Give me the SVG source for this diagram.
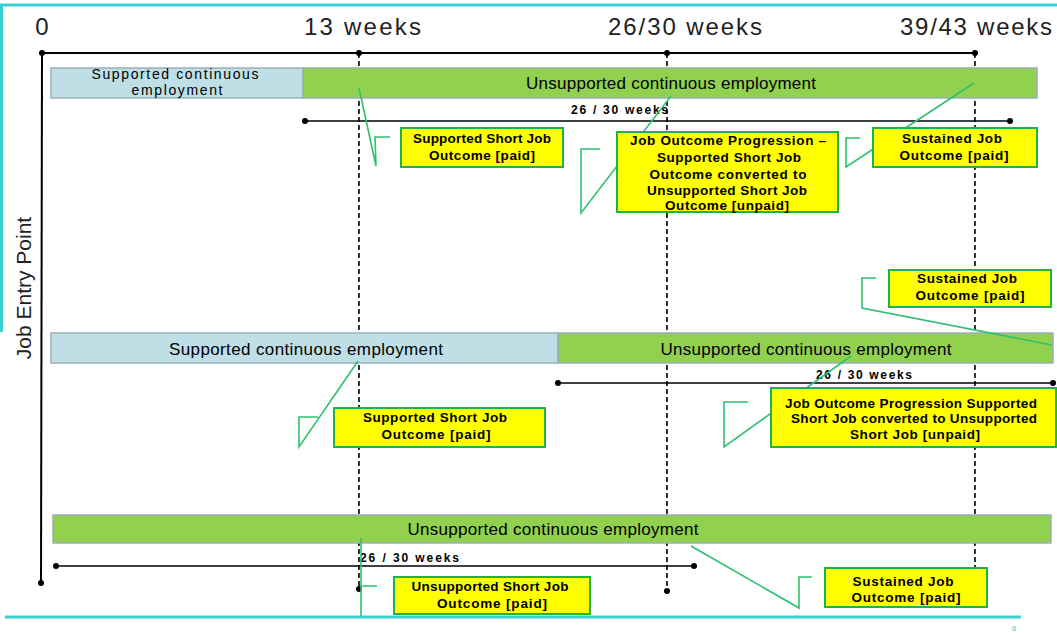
<svg xmlns="http://www.w3.org/2000/svg" width="1057" height="633" viewBox="0 0 1057 633">
<style>
.frame{stroke:#3CCFCF;stroke-width:3;fill:none}
.axis{stroke:#000;stroke-width:2;fill:none}
.dash{stroke:#000;stroke-width:1.6;stroke-dasharray:5 3;fill:none}
.dim{stroke:#000;stroke-width:1.6;fill:none}
.dot{fill:#000}
.sup{fill:#BEDFE6;stroke:#9AB0B8;stroke-width:1.5}
.uns{fill:#92D050;stroke:#9AB0B8;stroke-width:1.5}
.box{fill:#FFFF00;stroke:#22B04B;stroke-width:2}
.ptr{stroke:#2FC071;stroke-width:1.6;fill:none;stroke-linejoin:miter}
.big{font-family:"Liberation Sans",Arial,sans-serif;font-size:24px;fill:#222}
.bar{font-family:"Liberation Sans",Arial,sans-serif;font-size:17px;fill:#000;text-anchor:middle}
.bar13{font-family:"Liberation Sans",Arial,sans-serif;font-size:14px;fill:#000;text-anchor:middle}
.co{font-family:"Liberation Sans",Arial,sans-serif;font-size:13.5px;font-weight:bold;fill:#000;text-anchor:middle}
.wk{font-family:"Liberation Sans",Arial,sans-serif;font-size:12px;font-weight:bold;fill:#000}
</style>

<g id="frame">
<line class="frame" x1="0" y1="5" x2="1057" y2="5"/>
<line class="frame" x1="1.5" y1="5" x2="1.5" y2="332"/>
<line class="frame" x1="5" y1="617" x2="1021" y2="617"/>
<text x="1014" y="631" font-family="Liberation Sans, sans-serif" font-size="8" fill="#3CCFCF" text-anchor="middle">8</text>
</g>

<g id="axes">
<line class="axis" x1="42" y1="53" x2="975" y2="53"/>
<line class="axis" x1="42" y1="53" x2="41" y2="583"/>
<line class="dash" x1="359" y1="53" x2="359" y2="589"/>
<line class="dash" x1="667" y1="53" x2="667" y2="591"/>
<line class="dash" x1="975" y1="53" x2="975" y2="567"/>
<circle class="dot" cx="42" cy="53" r="3"/>
<circle class="dot" cx="359" cy="53" r="3"/>
<circle class="dot" cx="667" cy="53" r="3"/>
<circle class="dot" cx="975" cy="53" r="3"/>
<circle class="dot" cx="41" cy="583" r="3"/>
<circle class="dot" cx="359" cy="589" r="3"/>
<circle class="dot" cx="667" cy="591" r="3"/>
</g>

<g id="axis-labels">
<text class="big" x="42" y="35" text-anchor="middle">0</text>
<text class="big" x="304" y="35" textLength="117" lengthAdjust="spacing">13 weeks</text>
<text class="big" x="608" y="35" textLength="154" lengthAdjust="spacing">26/30 weeks</text>
<text class="big" x="900" y="35" textLength="152" lengthAdjust="spacing">39/43 weeks</text>
<text font-family="Liberation Sans, Arial, sans-serif" font-size="21" fill="#222" text-anchor="middle" transform="translate(31,288) rotate(-90)">Job Entry Point</text>
</g>

<g id="dimensions">
<line class="dim" x1="305" y1="121" x2="1010" y2="121"/>
<circle class="dot" cx="305" cy="121" r="3"/>
<circle class="dot" cx="1010" cy="121" r="3"/>
<text class="wk" x="571" y="114" textLength="97" lengthAdjust="spacing">26 / 30 weeks</text>
<line class="dim" x1="558" y1="383" x2="1053" y2="383"/>
<circle class="dot" cx="558" cy="383" r="3"/>
<circle class="dot" cx="1053" cy="383" r="3"/>
<text class="wk" x="816" y="379" textLength="96" lengthAdjust="spacing">26 / 30 weeks</text>
<line class="dim" x1="56" y1="566" x2="694" y2="566"/>
<circle class="dot" cx="56" cy="566" r="3"/>
<circle class="dot" cx="694" cy="566" r="3"/>
<text class="wk" x="360" y="562" textLength="99" lengthAdjust="spacing">26 / 30 weeks</text>
</g>

<g id="row1-supported">
<rect class="sup" x="51" y="68" width="252" height="30"/>
<text class="bar13" x="175" y="79" textLength="167" lengthAdjust="spacing">Supported continuous</text>
<text class="bar13" x="177" y="95" textLength="91" lengthAdjust="spacing">employment</text>
</g>
<g id="row1-unsupported">
<rect class="uns" x="303" y="68" width="734" height="30"/>
<text class="bar" x="671" y="89" textLength="290" lengthAdjust="spacing">Unsupported continuous employment</text>
</g>
<g id="row2-supported">
<rect class="sup" x="51" y="333" width="507" height="30"/>
<text class="bar" x="306" y="355" textLength="274" lengthAdjust="spacing">Supported continuous employment</text>
</g>
<g id="row2-unsupported">
<rect class="uns" x="558" y="333" width="495" height="30"/>
<text class="bar" x="806" y="355" textLength="291" lengthAdjust="spacing">Unsupported continuous employment</text>
</g>
<g id="row3-unsupported">
<rect class="uns" x="53" y="515" width="998" height="28"/>
<text class="bar" x="553" y="535" textLength="291" lengthAdjust="spacing">Unsupported continuous employment</text>
</g>

<g id="connectors">
<polyline class="ptr" points="390,137 375,137 376,166 359,88"/>
<polyline class="ptr" points="600,149 581,149 581,213 671,96"/>
<polyline class="ptr" points="860,138 846,138 846,167 974,83"/>
<polyline class="ptr" points="876,278 862,278 862,308 1052,345"/>
<polyline class="ptr" points="318,417 299,417 299,447 358,361"/>
<polyline class="ptr" points="748,402 724,402 724,447 851,356"/>
<polyline class="ptr" points="377,586 361,586 361,616 361,538"/>
<polyline class="ptr" points="812,577 799,577 799,608 691,546"/>
</g>

<g id="callout-supported-short-1">
<rect class="box" x="401" y="128" width="162" height="39"/>
<text class="co" x="482" y="143" textLength="138" lengthAdjust="spacing">Supported Short Job</text>
<text class="co" x="482" y="160" textLength="106" lengthAdjust="spacing">Outcome [paid]</text>
</g>
<g id="callout-progression-1">
<rect class="box" x="617" y="132" width="221" height="80"/>
<text class="co" x="728" y="145" textLength="196" lengthAdjust="spacing">Job Outcome Progression –</text>
<text class="co" x="729" y="162" textLength="144" lengthAdjust="spacing">Supported Short Job</text>
<text class="co" x="728" y="179" textLength="157" lengthAdjust="spacing">Outcome converted to</text>
<text class="co" x="727" y="195" textLength="160" lengthAdjust="spacing">Unsupported Short Job</text>
<text class="co" x="727" y="210" textLength="124" lengthAdjust="spacing">Outcome [unpaid]</text>
</g>
<g id="callout-sustained-1">
<rect class="box" x="873" y="128" width="164" height="39"/>
<text class="co" x="952" y="143" textLength="100" lengthAdjust="spacing">Sustained Job</text>
<text class="co" x="954" y="160" textLength="109" lengthAdjust="spacing">Outcome [paid]</text>
</g>
<g id="callout-sustained-2">
<rect class="box" x="889" y="270" width="162" height="37"/>
<text class="co" x="967" y="283" textLength="100" lengthAdjust="spacing">Sustained Job</text>
<text class="co" x="970" y="300" textLength="109" lengthAdjust="spacing">Outcome [paid]</text>
</g>
<g id="callout-supported-short-2">
<rect class="box" x="334" y="408" width="211" height="39"/>
<text class="co" x="435" y="422" textLength="144" lengthAdjust="spacing">Supported Short Job</text>
<text class="co" x="436" y="439" textLength="109" lengthAdjust="spacing">Outcome [paid]</text>
</g>
<g id="callout-progression-2">
<rect class="box" x="771" y="388" width="285" height="59"/>
<text class="co" x="911" y="408" textLength="252" lengthAdjust="spacing">Job Outcome Progression Supported</text>
<text class="co" x="914" y="423" textLength="246" lengthAdjust="spacing">Short Job converted to Unsupported</text>
<text class="co" x="915" y="439" textLength="130" lengthAdjust="spacing">Short Job [unpaid]</text>
</g>
<g id="callout-unsupported-short">
<rect class="box" x="394" y="577" width="196" height="37"/>
<text class="co" x="490" y="591" textLength="157" lengthAdjust="spacing">Unsupported Short Job</text>
<text class="co" x="492" y="608" textLength="110" lengthAdjust="spacing">Outcome [paid]</text>
</g>
<g id="callout-sustained-3">
<rect class="box" x="825" y="568" width="162" height="39"/>
<text class="co" x="903" y="586" textLength="101" lengthAdjust="spacing">Sustained Job</text>
<text class="co" x="906" y="602" textLength="109" lengthAdjust="spacing">Outcome [paid]</text>
</g>
</svg>
